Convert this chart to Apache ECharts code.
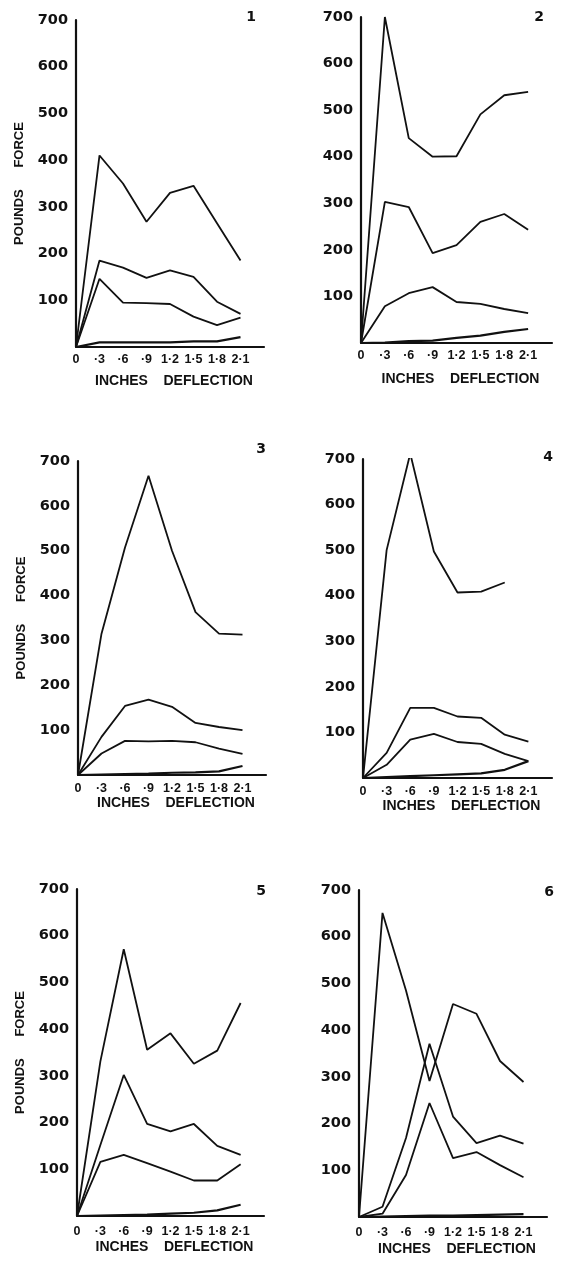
<!DOCTYPE html>
<html>
<head>
<meta charset="utf-8">
<script src="https://cdn.jsdelivr.net/npm/echarts@6/dist/echarts.min.js"></script>
<style>
html,body{margin:0;padding:0;background:#fff;}
#chart{width:563px;height:1261px;}
</style>
</head>
<body>
<div id="chart"></div>
<script>
// Categories (inches deflection); trailing blank extends the axis line
const categories = ['0', '·3', '·6', '·9', '1·2', '1·5', '1·8', '2·1', ''];
const panelLabels = ['1', '2', '3', '4', '5', '6'];
const xAxisTitle = 'INCHES    DEFLECTION';
const yAxisTitle = 'POUNDS      FORCE';
const yMax = 700;
const yStep = 100;

// Panel 1
const p1a = [0, 410, 350, 268, 330, 345, 265, 185];
const p1b = [0, 185, 170, 148, 164, 150, 97, 71];
const p1c = [0, 146, 95, 94, 92, 65, 47, 63];
const p1d = [0, 10, 10, 10, 10, 12, 12, 21];
// Panel 2
const p2a = [0, 700, 440, 400, 401, 491, 532, 539];
const p2b = [0, 303, 292, 193, 210, 260, 277, 243];
const p2c = [0, 79, 107, 120, 88, 84, 73, 64];
const p2d = [0, 1, 4, 5, 11, 16, 24, 30];
// Panel 3
const p3a = [0, 315, 507, 667, 500, 363, 315, 313];
const p3b = [0, 85, 154, 168, 152, 116, 107, 100];
const p3c = [0, 48, 76, 75, 76, 73, 59, 47];
const p3d = [0, 1, 2, 3, 5, 6, 8, 20];
// Panel 4
const p4a = [0, 500, 712, 497, 407, 409, 429, null];
const p4b = [0, 55, 154, 154, 135, 132, 95, 80];
const p4c = [0, 29, 84, 97, 79, 75, 53, 37];
const p4d = [0, 2, 4, 6, 8, 10, 18, 37];
// Panel 5
const p5a = [0, 331, 571, 356, 391, 326, 354, 456];
const p5b = [0, 152, 302, 197, 181, 197, 150, 131];
const p5c = [0, 116, 131, 113, 95, 76, 76, 111];
const p5d = [0, 1, 2, 3, 5, 7, 12, 24];
// Panel 6
const p6a = [0, 651, 485, 291, 456, 435, 334, 289];
const p6b = [0, 22, 169, 371, 215, 158, 174, 157];
const p6c = [0, 7, 90, 244, 126, 139, 111, 85];
const p6d = [0, 1, 2, 3, 3, 4, 5, 6];

const panelSeries = [
  [p1a, p1b, p1c, p1d],
  [p2a, p2b, p2c, p2d],
  [p3a, p3b, p3c, p3d],
  [p4a, p4b, p4c, p4d],
  [p5a, p5b, p5c, p5d],
  [p6a, p6b, p6c, p6d]
];

// layout (pixels)
const layout = [
  {grid: {left: 76, top: 20, width: 188, height: 327}, yName: true, nameGap: 27, labelMargin: 6, num: [251, 17]},
  {grid: {left: 361, top: 17, width: 191, height: 326}, yName: false, nameGap: 29, labelMargin: 6, num: [539, 17]},
  {grid: {left: 78, top: 461, width: 188, height: 314}, yName: true, nameGap: 19, labelMargin: 7, num: [261, 449]},
  {grid: {left: 363, top: 459, width: 189, height: 319}, yName: false, nameGap: 21, labelMargin: 7, num: [548, 457]},
  {grid: {left: 77, top: 889, width: 187, height: 327}, yName: true, nameGap: 24, labelMargin: 9, num: [261, 891]},
  {grid: {left: 359, top: 890, width: 188, height: 327}, yName: false, nameGap: 25, labelMargin: 9, num: [549, 892]}
];

const ink = '#111';
const grids = [], xAxes = [], yAxes = [], series = [], graphics = [];

layout.forEach((L, i) => {
  grids.push(Object.assign({containLabel: false}, L.grid));
  xAxes.push({
    type: 'category',
    gridIndex: i,
    data: categories,
    boundaryGap: false,
    name: xAxisTitle,
    nameLocation: 'middle',
    nameGap: L.nameGap,
    nameTextStyle: {fontFamily: 'Liberation Sans', fontWeight: 'bold', fontSize: 14, color: ink, padding: [0, 0, 0, 8]},
    axisLine: {show: true, lineStyle: {color: ink, width: 2.2}},
    axisTick: {show: false},
    splitLine: {show: false},
    axisLabel: {
      interval: 0, margin: L.labelMargin,
      fontFamily: 'Liberation Sans', fontWeight: 'bold', fontSize: 12.5, color: ink
    }
  });
  yAxes.push({
    type: 'value',
    gridIndex: i,
    min: 0, max: yMax, interval: yStep,
    name: L.yName ? yAxisTitle : '',
    nameLocation: 'middle',
    nameRotate: 90,
    nameGap: 50,
    nameTextStyle: {fontFamily: 'Liberation Sans', fontWeight: 'bold', fontSize: 13, color: ink},
    axisLine: {show: true, onZero: false, lineStyle: {color: ink, width: 2.2}},
    axisTick: {show: false},
    splitLine: {show: false},
    axisLabel: {
      margin: 8,
      fontFamily: 'DejaVu Sans', fontWeight: 'bold', fontSize: 14.5, color: ink,
      formatter: v => (v === 0 ? '' : String(v))
    }
  });
  panelSeries[i].forEach((arr, k) => {
    series.push({
      type: 'line',
      xAxisIndex: i, yAxisIndex: i,
      data: arr,
      symbol: 'none',
      connectNulls: false,
      lineStyle: {color: ink, width: k === 3 ? 2.2 : 1.8},
      silent: true
    });
  });
  graphics.push({
    type: 'text',
    x: L.num[0], y: L.num[1],
    style: {
      text: panelLabels[i],
      font: 'bold 14px "DejaVu Sans"',
      fill: ink,
      align: 'center',
      verticalAlign: 'middle'
    }
  });
});

const chart = echarts.init(document.getElementById('chart'), null, {renderer: 'canvas'});
chart.setOption({
  backgroundColor: '#fff',
  animation: false,
  grid: grids,
  xAxis: xAxes,
  yAxis: yAxes,
  series: series,
  graphic: graphics
});
</script>
</body>
</html>
